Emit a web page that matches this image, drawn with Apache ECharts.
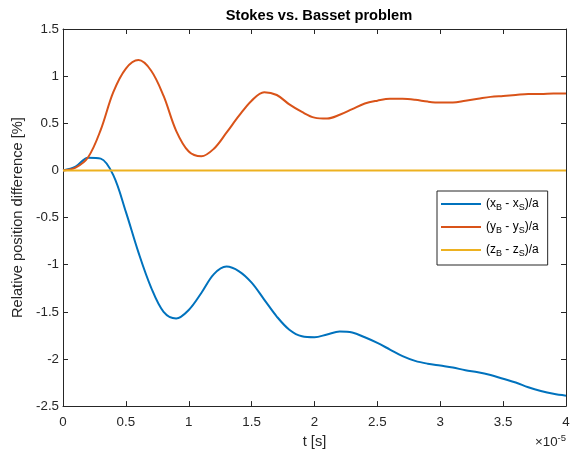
<!DOCTYPE html>
<html>
<head>
<meta charset="utf-8">
<script src="https://cdn.jsdelivr.net/npm/echarts@6/dist/echarts.min.js"></script>
<style>html,body{margin:0;padding:0;background:#fff}#c{width:575px;height:454px}</style>
</head>
<body>
<div id="c"></div>
<script>
// time in units of 1e-5 s
var t = [0,0.1,0.2,0.3,0.4,0.5,0.6,0.7,0.8,0.9,1.0,1.1,1.2,1.3,1.4,1.5,1.6,1.7,1.8,1.9,2.0,2.1,2.2,2.3,2.4,2.5,2.6,2.7,2.8,2.9,3.0,3.1,3.2,3.3,3.4,3.5,3.6,3.7,3.8,3.9,4.0];
var xDiff = [0,0.04,0.135,0.125,-0.05,-0.44,-0.87,-1.24,-1.50,-1.57,-1.48,-1.30,-1.10,-1.02,-1.07,-1.19,-1.37,-1.55,-1.69,-1.76,-1.77,-1.74,-1.71,-1.72,-1.77,-1.83,-1.90,-1.97,-2.02,-2.05,-2.07,-2.09,-2.12,-2.14,-2.17,-2.21,-2.25,-2.30,-2.34,-2.37,-2.39];
var yDiff = [0,0.03,0.14,0.43,0.83,1.08,1.17,1.06,0.79,0.42,0.20,0.15,0.23,0.40,0.58,0.74,0.83,0.80,0.70,0.62,0.56,0.55,0.59,0.65,0.71,0.74,0.76,0.76,0.75,0.73,0.72,0.72,0.74,0.76,0.78,0.79,0.80,0.81,0.81,0.815,0.815];
var tZ = [0,4];
var zDiff = [0,0];
var seriesNames = ['(x{sub|B} - x{sub|S})/a','(y{sub|B} - y{sub|S})/a','(z{sub|B} - z{sub|S})/a'];
var colors = ['#0072BD','#D95319','#EDB120'];

function pairs(tt, v){ return tt.map(function(x,i){ return [x, v[i]]; }); }

var chart = echarts.init(document.getElementById('c'));
var axisCol = '#262626';
var font = 'Liberation Sans, Arial, Helvetica, sans-serif';
function common(){
  return {
    axisLine:{show:true, onZero:false, lineStyle:{color:axisCol, width:1}},
    axisTick:{show:true, inside:true, length:5, lineStyle:{color:axisCol}},
    splitLine:{show:false}
  };
}
chart.setOption({
  animation:false,
  textStyle:{fontFamily:font},
  title:{text:'Stokes vs. Basset problem', left:314, textAlign:'center', top:3,
    textStyle:{fontSize:14.67, fontWeight:'bold', color:'#000', fontFamily:font}},
  grid:{left:63, right:9, top:29, bottom:45},
  xAxis:[
    Object.assign({type:'value', min:0, max:4, interval:0.5, position:'bottom',
      name:'t [s]', nameLocation:'middle', nameGap:25,
      nameTextStyle:{fontSize:14.67, color:axisCol},
      axisLabel:{fontSize:13.33, color:axisCol, margin:10}}, common()),
    Object.assign({type:'value', min:0, max:4, interval:0.5, position:'top',
      axisLabel:{show:false}}, common())
  ],
  yAxis:[
    Object.assign({type:'value', min:-2.5, max:1.5, interval:0.5, position:'left',
      name:'Relative position difference [%]', nameLocation:'middle', nameGap:33,
      nameTextStyle:{fontSize:14.67, color:axisCol},
      axisLabel:{fontSize:13.33, color:axisCol, margin:4}}, common()),
    Object.assign({type:'value', min:-2.5, max:1.5, interval:0.5, position:'right',
      axisLabel:{show:false}}, common())
  ],
  legend:{
    orient:'vertical', left:437, top:191, itemWidth:40, itemHeight:2, itemGap:9,
    padding:[7,9,7,4], borderColor:axisCol, borderWidth:1, backgroundColor:'#fff',
    textStyle:{fontSize:12, color:'#000', fontFamily:font,
      rich:{sub:{fontSize:9, verticalAlign:'bottom', padding:[7,0,0,0], color:'#000'}}},
    data:seriesNames.map(function(n){ return {name:n, icon:'rect'}; })
  },
  graphic:[{
    type:'text', right:9, top:433,
    style:{text:'×10{sup|-5}', fontSize:13.33, fill:axisCol, fontFamily:font,
      rich:{sup:{fontSize:9.5, verticalAlign:'top', padding:[0,0,8,0], fill:axisCol}}}
  }],
  series:[
    {name:seriesNames[0], type:'line', data:pairs(t,xDiff), smooth:0.35, showSymbol:false, symbol:'none',
      lineStyle:{color:colors[0], width:2}, itemStyle:{color:colors[0]}, z:3},
    {name:seriesNames[1], type:'line', data:pairs(t,yDiff), smooth:0.35, showSymbol:false, symbol:'none',
      lineStyle:{color:colors[1], width:2}, itemStyle:{color:colors[1]}, z:4},
    {name:seriesNames[2], type:'line', data:pairs(tZ,zDiff), showSymbol:false, symbol:'none',
      lineStyle:{color:colors[2], width:2}, itemStyle:{color:colors[2]}, z:5}
  ]
});
</script>
</body>
</html>
